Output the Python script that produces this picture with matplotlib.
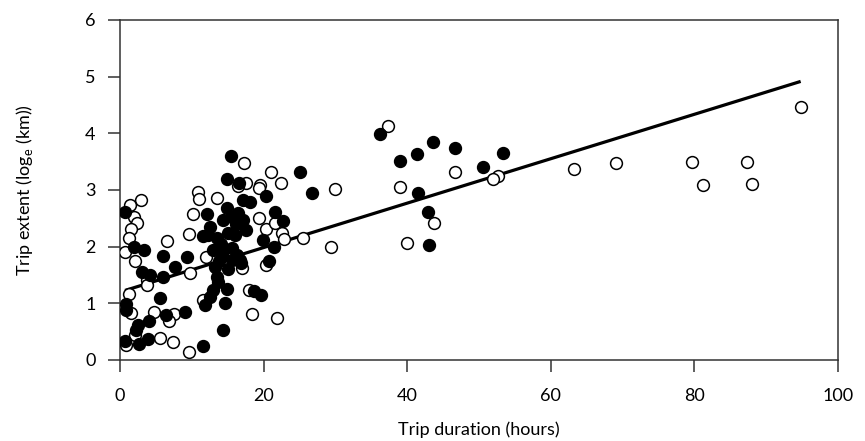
import numpy as np
import matplotlib.pyplot as plt

# trips split into two groups: filled and open symbols
filled_hours = [0.7, 1.9, 3.4, 6.0, 9.4, 7.7, 6.0, 3.1, 4.2, 5.6, 0.8, 0.9, 6.4, 9.1,
                4.1, 2.5, 2.2, 3.9, 0.7, 2.7, 11.5, 14.4, 14.6, 11.8, 12.5, 13.0, 14.9,
                13.7, 13.5, 13.2, 15.6, 16.7, 16.9, 16.3, 15.6, 14.2, 13.0, 12.3, 11.6,
                13.5, 15.1, 16.0, 12.5, 14.4, 15.6, 17.2, 12.1, 14.9, 17.2, 18.1, 14.9,
                16.6, 15.5, 20.4, 21.6, 22.7, 19.9, 21.4, 20.7, 18.6, 19.7, 25.1, 26.7,
                36.2, 39.0, 41.3, 43.6, 46.7, 50.5, 53.4, 41.5, 42.9, 43.1,
                14.0, 15.0, 16.5, 17.5, 13.8, 16.2]
filled_extent = [2.62, 2.00, 1.94, 1.83, 1.82, 1.64, 1.47, 1.56, 1.50, 1.09, 0.99, 0.89,
                 0.79, 0.84, 0.68, 0.62, 0.53, 0.37, 0.34, 0.28, 0.25, 0.53, 1.00, 0.97,
                 1.12, 1.24, 1.26, 1.38, 1.47, 1.65, 1.76, 1.76, 1.71, 1.85, 1.97, 1.87,
                 1.94, 2.21, 2.18, 2.15, 2.24, 2.21, 2.35, 2.47, 2.53, 2.47, 2.57, 2.68,
                 2.82, 2.79, 3.19, 3.12, 3.60, 2.89, 2.62, 2.46, 2.12, 2.00, 1.75, 1.21,
                 1.15, 3.31, 2.95, 3.98, 3.51, 3.63, 3.85, 3.75, 3.40, 3.66, 2.95, 2.61,
                 2.03,
                 2.05, 1.60, 2.60, 2.30, 1.75, 2.40]

open_hours = [2.9, 1.4, 2.0, 2.3, 1.6, 1.2, 0.7, 2.1, 6.5, 9.65, 9.8, 3.7, 3.7, 1.2,
              1.5, 4.7, 7.5, 6.8, 2.1, 5.6, 0.8, 7.4, 9.65, 10.8, 11.0, 13.5, 10.1,
              12.0, 11.6, 17.3, 21.1, 22.4, 17.6, 16.5, 19.5, 19.3, 19.3, 20.3, 21.6,
              22.5, 22.9, 17.0, 20.4, 17.9, 18.4, 21.8, 29.9, 29.4, 25.5, 37.3, 39.0,
              46.7, 52.6, 52.0, 43.8, 40.0, 63.3, 69.1, 79.7, 81.2, 87.3, 88.0, 94.8]
open_extent = [2.82, 2.74, 2.53, 2.42, 2.31, 2.16, 1.91, 1.75, 2.10, 2.22, 1.53, 1.41,
               1.32, 1.16, 0.83, 0.85, 0.81, 0.68, 0.44, 0.38, 0.26, 0.31, 0.15, 2.96,
               2.85, 2.86, 2.58, 1.82, 1.06, 3.47, 3.31, 3.12, 3.12, 3.07, 3.09, 3.03,
               2.51, 2.31, 2.42, 2.24, 2.13, 1.62, 1.68, 1.24, 0.82, 0.75, 3.02, 2.00,
               2.15, 4.13, 3.05, 3.31, 3.25, 3.19, 2.41, 2.06, 3.37, 3.47, 3.50, 3.08,
               3.50, 3.11, 4.46]

# fitted line
fit_intercept = 1.2
fit_slope = 0.0392

x_ticks = [0, 20, 40, 60, 80, 100]
y_ticks = [0, 1, 2, 3, 4, 5, 6]

plt.rcParams['font.family'] = ['Lato', 'DejaVu Sans']
plt.rcParams['mathtext.fontset'] = 'custom'
plt.rcParams['mathtext.rm'] = 'Lato'

fig = plt.figure(figsize=(8.65, 4.41), dpi=100)
ax = fig.add_axes([120 / 865, 1 - 360 / 441, 718 / 865, 340 / 441])

all_x = filled_hours + open_hours
xs = np.array([min(all_x), max(all_x)])
ax.plot(xs, fit_intercept + fit_slope * xs, color='black', lw=2.3, zorder=2,
        solid_capstyle='butt')

ax.scatter(open_hours, open_extent, s=72, facecolors='white', edgecolors='black',
           linewidths=1.1, zorder=3)
ax.scatter(filled_hours, filled_extent, s=72, facecolors='black', edgecolors='black',
           linewidths=1.1, zorder=4)

ax.set_xlim(0, 100)
ax.set_ylim(0, 6)
ax.set_xticks(x_ticks)
ax.set_yticks(y_ticks)
ax.tick_params(axis='both', direction='out', length=8.5, width=1.1, color='#333333',
               labelsize=13, labelcolor='black')
ax.tick_params(axis='y', pad=9)
ax.tick_params(axis='x', pad=12)
for sp in ax.spines.values():
    sp.set_color('#333333')
    sp.set_linewidth(1.1)

ax.set_xlabel('Trip duration (hours)', fontsize=13, labelpad=12)
ax.set_ylabel(r'Trip extent (log$_\mathrm{e}$ (km))', fontsize=13, labelpad=36)

fig.savefig('out.png', dpi=100)
